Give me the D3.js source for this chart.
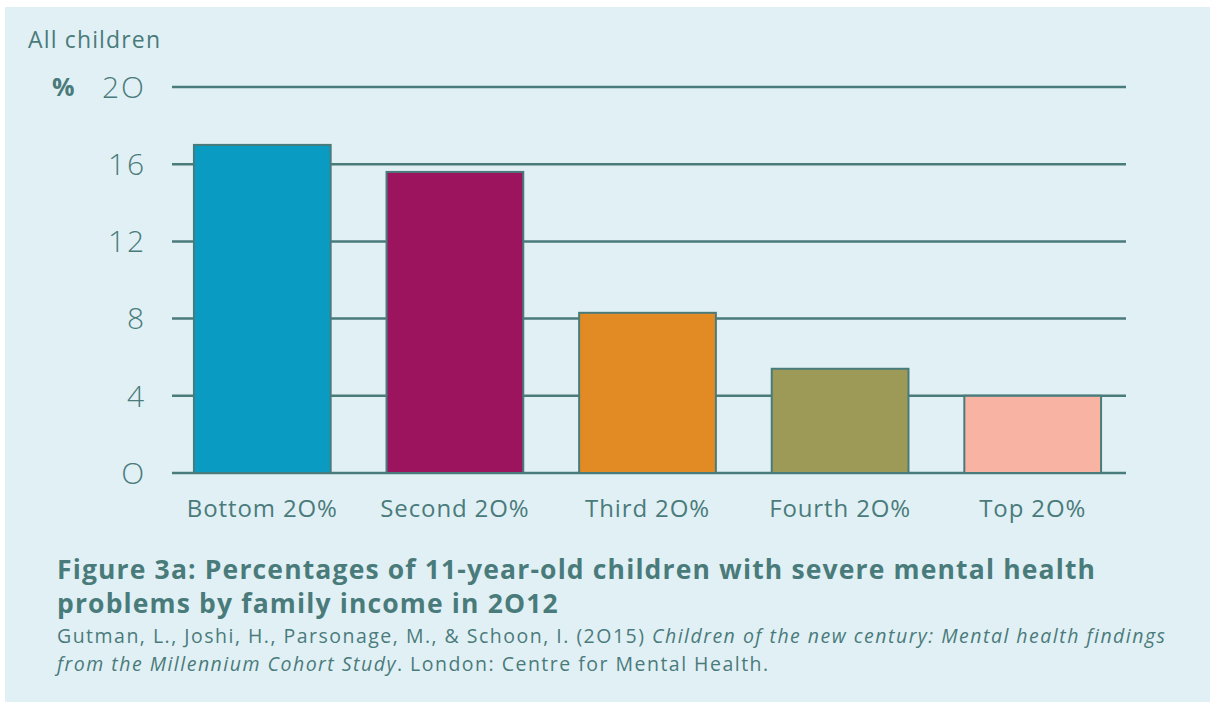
<!DOCTYPE html>
<html>
<head>
<meta charset="utf-8">
<script src="https://cdn.jsdelivr.net/npm/d3@7"></script>
<style>
  html, body { margin: 0; padding: 0; background: #ffffff; }
  svg { display: block; }
  text { font-family: "Open Sans", Lato, "Noto Sans", sans-serif; }
</style>
</head>
<body>
<div id="chart"></div>
<script>
const categories = ["Bottom 20%", "Second 20%", "Third 20%", "Fourth 20%", "Top 20%"];
const values = [17.0, 15.6, 8.3, 5.4, 4.0];
const colors = ["#0a9bc2", "#9c145e", "#e28b25", "#9d9a57", "#f8b3a3"];
const yTicks = [0, 4, 8, 12, 16, 20];
const tickLabels = ["O", "4", "8", "12", "16", "2O"];
const xLabels = ["Bottom 2O%", "Second 2O%", "Third 2O%", "Fourth 2O%", "Top 2O%"];
const subtitle = "All children";
const titleLines = ["Figure 3a: Percentages of 11-year-old children with severe mental health", "problems by family income in 2O12"];

const W = 1210, H = 702;
const ink = "#4a7b7b";
const svg = d3.select("#chart").append("svg").attr("width", W).attr("height", H);

// spread letters of a text selection so that its reference item reaches a target width
function fit(sel, refNode, target) {
  const w = refNode.getComputedTextLength();
  const n = refNode.textContent.length;
  const ls = (target - w) / Math.max(1, n - 1);
  sel.attr("letter-spacing", ls);
}

svg.append("rect").attr("x", 5).attr("y", 7).attr("width", W - 5).attr("height", H - 7).attr("fill", "#e1f0f5");

const y = d3.scaleLinear().domain([0, 20]).range([473, 87]);
const x = d3.scaleBand().domain(categories).range([166, 1129]).paddingInner(0.29).paddingOuter(0.145);

// gridlines
svg.append("g").selectAll("line").data(yTicks).join("line")
  .attr("x1", 172).attr("x2", 1126)
  .attr("y1", d => y(d)).attr("y2", d => y(d))
  .attr("stroke", ink).attr("stroke-width", 2.5);

// tick labels
const ticks = svg.append("g").selectAll("text").data(yTicks).join("text")
  .attr("x", 146).attr("y", d => y(d)).attr("dy", "0.36em")
  .attr("text-anchor", "end").attr("fill", ink)
  .attr("font-size", 30).attr("font-weight", 300)
  .text((d, i) => tickLabels[i]);
fit(ticks, ticks.nodes()[5], 42);

svg.append("text").attr("x", 52).attr("y", y(20)).attr("dy", "0.36em")
  .attr("fill", ink).attr("font-size", 25).attr("font-weight", 700).text("%");

const sub = svg.append("text").attr("x", 28).attr("y", 48)
  .attr("fill", ink).attr("font-size", 23).attr("font-weight", 400).text(subtitle);
fit(sub, sub.node(), 132);

// bars
svg.append("g").selectAll("rect").data(values).join("rect")
  .attr("x", (d, i) => x(categories[i]))
  .attr("y", d => y(d))
  .attr("width", x.bandwidth())
  .attr("height", d => y(0) - y(d))
  .attr("fill", (d, i) => colors[i])
  .attr("stroke", ink).attr("stroke-width", 2);

// x labels
const xl = svg.append("g").selectAll("text").data(categories).join("text")
  .attr("x", d => x(d) + x.bandwidth() / 2).attr("y", 517)
  .attr("text-anchor", "middle").attr("fill", ink)
  .attr("font-size", 24).attr("font-weight", 400)
  .text((d, i) => xLabels[i]);
fit(xl, xl.nodes()[0], 150);

// title
const tl = svg.append("g").selectAll("text").data(titleLines).join("text")
  .attr("x", 57).attr("y", (d, i) => 579 + i * 34)
  .attr("fill", ink).attr("font-size", 26.5).attr("font-weight", 700)
  .text(d => d);
fit(tl, tl.nodes()[0], 1038);

// citation
const c1 = svg.append("text").attr("x", 57).attr("y", 643).attr("fill", ink).attr("font-size", 19.5);
c1.append("tspan").text("Gutman, L., Joshi, H., Parsonage, M., & Schoon, I. (2O15) ");
c1.append("tspan").attr("font-style", "italic").text("Children of the new century: Mental health findings");
const c2 = svg.append("text").attr("x", 57).attr("y", 671).attr("fill", ink).attr("font-size", 19.5);
c2.append("tspan").attr("font-style", "italic").text("from the Millennium Cohort Study");
c2.append("tspan").text(". London: Centre for Mental Health.");
const cw = c1.node().getComputedTextLength();
const cls = (1108 - cw) / (c1.node().textContent.length - 1);
c1.attr("letter-spacing", cls);
c2.attr("letter-spacing", cls);
</script>
</body>
</html>
